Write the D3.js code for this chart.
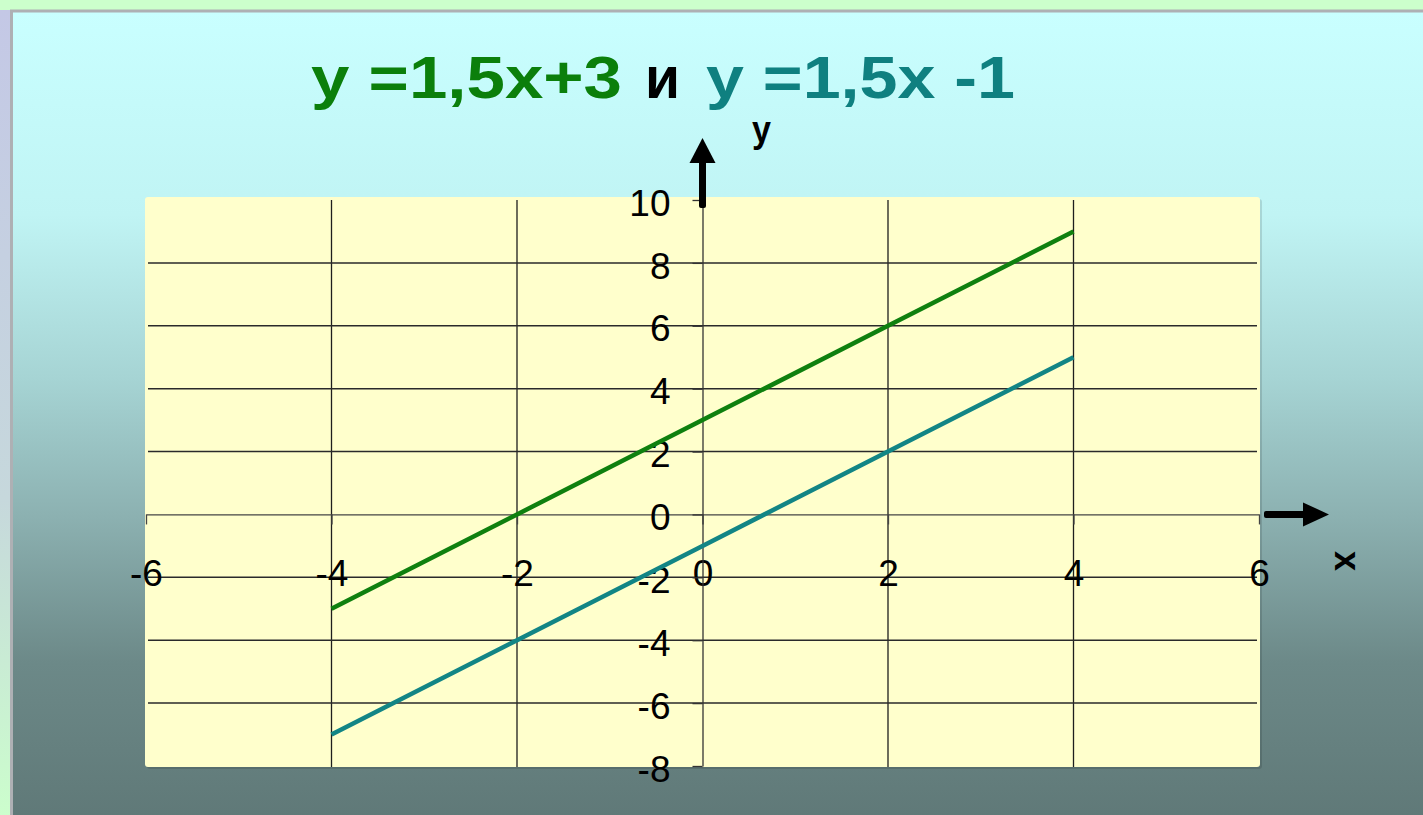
<!DOCTYPE html>
<html>
<head>
<meta charset="utf-8">
<script src="https://cdn.jsdelivr.net/npm/d3@7"></script>
<style>
  body { margin: 0; overflow: hidden; }
  svg { display: block; }
</style>
</head>
<body>
<script>
w = 1423;
h = 815;

// data
xValues = [-4, -2, 0, 2, 4];
line1 = [-3, 0, 3, 6, 9];    // y = 1,5x + 3
line2 = [-7, -4, -1, 2, 5];  // y = 1,5x - 1
xTicks = [-6, -4, -2, 0, 2, 4, 6];
yTicks = [-8, -6, -4, -2, 0, 2, 4, 6, 8, 10];
titleParts = ['y =1,5x+3', 'и', 'y =1,5x -1'];

let xScale = d3.scaleLinear().domain([-6, 6]).range([146, 1259]);
let yScale = d3.scaleLinear().domain([-8, 10]).range([766, 200]);

svg = d3.select('body')
  .append('svg')
  .attr('width', w)
  .attr('height', h);

let defs = svg.append('defs');
let bg = defs.append('linearGradient').attr('id', 'panel')
  .attr('x1', 0).attr('y1', 0).attr('x2', 0).attr('y2', 1);
[[0, '#c9ffff'], [0.25, '#c0f4f4'], [0.45, '#a6d4d4'], [0.62, '#8cb1b1'],
 [0.8, '#6c8988'], [1, '#5f7877']].forEach(s => {
  bg.append('stop').attr('offset', s[0]).attr('stop-color', s[1]);
});
let side = defs.append('linearGradient').attr('id', 'side')
  .attr('x1', 0).attr('y1', 0).attr('x2', 0).attr('y2', 1);
side.append('stop').attr('offset', 0).attr('stop-color', '#c4c8e6');
side.append('stop').attr('offset', 0.6).attr('stop-color', '#c6d8dc');
side.append('stop').attr('offset', 1).attr('stop-color', '#ccffcc');

// background frame
svg.append('rect').attr('width', w).attr('height', h).attr('fill', '#ccffcc');
svg.append('rect').attr('x', 0).attr('y', 10).attr('width', 10).attr('height', h)
  .attr('fill', 'url(#side)');
svg.append('rect')
  .attr('x', 11.5).attr('y', 11)
  .attr('width', w).attr('height', h)
  .attr('fill', 'url(#panel)')
  .attr('stroke', '#aeb0b4')
  .attr('stroke-width', 3);

// plot area
svg.append('rect')
  .attr('x', 147).attr('y', 199)
  .attr('width', 1115).attr('height', 570)
  .attr('rx', 3)
  .attr('fill', '#000').attr('opacity', 0.12);
svg.append('rect')
  .attr('x', 145).attr('y', 197)
  .attr('width', 1115).attr('height', 570)
  .attr('rx', 3)
  .attr('fill', '#ffffcc');

// grid
svg.append('g')
  .selectAll('line')
  .data(xTicks.filter(d => d !== 0 && Math.abs(d) !== 6))
  .enter()
  .append('line')
  .attr('x1', d => xScale(d)).attr('x2', d => xScale(d))
  .attr('y1', yScale(10)).attr('y2', yScale(-8) + 1)
  .attr('stroke', '#1e1e1e')
  .attr('stroke-width', 1.3);

svg.append('g')
  .selectAll('line')
  .data(yTicks.filter(d => d !== 0 && d !== 10 && d !== -8))
  .enter()
  .append('line')
  .attr('x1', xScale(-6) + 2).attr('x2', xScale(6) - 2)
  .attr('y1', d => yScale(d)).attr('y2', d => yScale(d))
  .attr('stroke', '#2a2a2a')
  .attr('stroke-width', 1.5);

// axes
let xAxis = d3.axisBottom(xScale)
  .tickValues(xTicks)
  .tickSizeInner(10)
  .tickSizeOuter(0)
  .tickFormat(d => String(d));

let yAxis = d3.axisLeft(yScale)
  .tickValues(yTicks)
  .tickSizeInner(10)
  .tickSizeOuter(0)
  .tickFormat(d => String(d));

let gx = svg.append('g')
  .attr('transform', `translate(0, ${yScale(0)})`)
  .call(xAxis);
gx.select('.domain').attr('stroke', '#444').attr('stroke-width', 1.3);
gx.selectAll('.tick line').attr('stroke', '#444').attr('stroke-width', 1.3);
gx.selectAll('.tick text')
  .attr('dy', null)
  .attr('y', 72)
  .attr('fill', '#000')
  .style('font-family', '"Liberation Sans", Arial, sans-serif')
  .style('font-size', '37px');

let gy = svg.append('g')
  .attr('transform', `translate(${xScale(0)}, 0)`)
  .call(yAxis);
gy.select('.domain').attr('stroke', '#333').attr('stroke-width', 1.3);
gy.selectAll('.tick line').attr('stroke', '#333').attr('stroke-width', 1.3);
gy.selectAll('.tick text')
  .attr('x', -32)
  .attr('dy', '0.41em')
  .attr('fill', '#000')
  .style('font-family', '"Liberation Sans", Arial, sans-serif')
  .style('font-size', '37px');

// lines
let line = d3.line()
  .x((d, i) => xScale(xValues[i]))
  .y(d => yScale(d));

svg.append('path')
  .datum(line1)
  .attr('d', line)
  .attr('fill', 'none')
  .attr('stroke', '#0f800f')
  .attr('stroke-width', 4.5);

svg.append('path')
  .datum(line2)
  .attr('d', line)
  .attr('fill', 'none')
  .attr('stroke', '#128585')
  .attr('stroke-width', 4.5);

// axis arrows
let ax = xScale(0), ay = yScale(0);
svg.append('rect')
  .attr('x', ax - 3.5).attr('y', yScale(10) - 40)
  .attr('width', 7).attr('height', 48)
  .attr('rx', 2)
  .attr('fill', '#000');
svg.append('path')
  .attr('d', `M${ax - 13},${yScale(10) - 37} L${ax + 13},${yScale(10) - 37} L${ax},${yScale(10) - 62} Z`)
  .attr('fill', '#000');

svg.append('rect')
  .attr('x', xScale(6) + 5).attr('y', ay - 3.5)
  .attr('width', 42).attr('height', 7)
  .attr('rx', 2)
  .attr('fill', '#000');
svg.append('path')
  .attr('d', `M${xScale(6) + 44},${ay - 12} L${xScale(6) + 44},${ay + 12} L${xScale(6) + 70},${ay} Z`)
  .attr('fill', '#000');

svg.append('text')
  .attr('x', 752).attr('y', 142)
  .attr('textLength', 19)
  .attr('lengthAdjust', 'spacingAndGlyphs')
  .style('font-family', '"Liberation Sans", Arial, sans-serif')
  .style('font-weight', 'bold')
  .style('font-size', '36px')
  .text('y');

svg.append('text')
  .attr('transform', `translate(1347, 561) rotate(90)`)
  .attr('text-anchor', 'middle')
  .attr('dominant-baseline', 'central')
  .style('font-family', '"Liberation Sans", Arial, sans-serif')
  .style('font-weight', 'bold')
  .style('font-size', '36px')
  .text('x');

// title
let titleX = [311, 645, 706];
let titleW = [311, 35, 309];
let titleC = ['#0b7f0b', '#000', '#0f8080'];
svg.append('g')
  .selectAll('text')
  .data(titleParts)
  .enter()
  .append('text')
  .attr('x', (d, i) => titleX[i])
  .attr('y', 98)
  .attr('textLength', (d, i) => titleW[i])
  .attr('lengthAdjust', 'spacingAndGlyphs')
  .attr('fill', (d, i) => titleC[i])
  .style('font-family', '"Liberation Sans Narrow", "Liberation Sans", Arial, sans-serif')
  .style('font-weight', 'bold')
  .style('font-size', '60px')
  .text(d => d);
</script>
</body>
</html>
